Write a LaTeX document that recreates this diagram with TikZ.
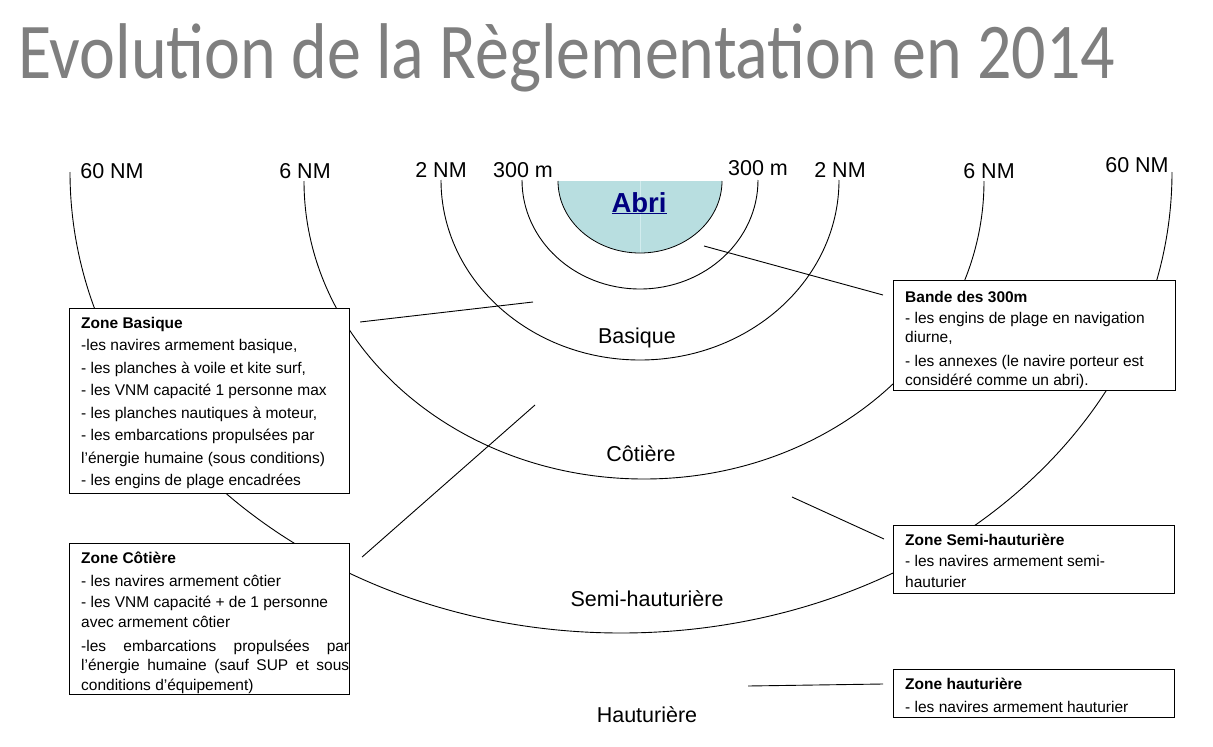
\documentclass[tikz,border=0pt]{standalone}
\usepackage{graphicx}
\usepackage{fontspec}
\setmainfont{Liberation Sans}
\newfontfamily\titlefont{Carlito}
\usetikzlibrary{calc}
\definecolor{abrifill}{HTML}{B8DEE0}
\definecolor{abriseam}{HTML}{D2ECEE}
\definecolor{abriblue}{HTML}{000080}
\definecolor{titlegray}{HTML}{7F7F7F}
\begin{document}
\begin{tikzpicture}[x=1pt,y=-1pt,
  arcline/.style={line width=0.9pt, black},
  conn/.style={line width=0.9pt, black},
  zonebox/.style={draw, line width=1.1pt, fill=white, inner sep=0pt, anchor=north west},
  boxtext/.style={anchor=north west, inner sep=0pt, align=left},
  distlabel/.style={anchor=base, inner sep=0pt, font=\fontsize{21.5}{24}\selectfont},
  zonelabel/.style={anchor=base, inner sep=0pt, font=\fontsize{21.5}{24}\selectfont},
]
\fill[white] (0,0) rectangle (1213,747);
\path[use as bounding box] (0,0) rectangle (1213,747);

% title
\node[anchor=base west, inner sep=0pt, text=titlegray] (title) at (18,78)
  {\resizebox{1097pt}{\height}{\titlefont\fontsize{79}{80}\selectfont Evolution de la Règlementation en 2014}};

% zone arcs
\draw[arcline] (70,172) arc[start angle=180, end angle=0, x radius=551, y radius=461];
\draw[arcline] (304,181) arc[start angle=180, end angle=0, x radius=340, y radius=298];
\draw[arcline] (441,180) arc[start angle=180, end angle=0, x radius=199, y radius=180];
\draw[arcline] (522,180) arc[start angle=180, end angle=0, x radius=118, y radius=109];

% abri
\fill[abrifill] (558,181) arc[start angle=180, end angle=0, x radius=82, y radius=72] -- cycle;
\draw[abriseam, line width=0.6pt] (640,181) -- (640,253);
\draw[arcline, line width=0.8pt] (558,181) arc[start angle=180, end angle=0, x radius=82, y radius=72];
\node[anchor=base, inner sep=0pt, text=abriblue, font=\fontsize{27.5}{30}\selectfont\bfseries] (abri) at (639,212) {\underline{Abri}};

% distance labels
\node[distlabel] (l60a) at (112,178) {60 NM};
\node[distlabel] (l6a) at (305,178) {6 NM};
\node[distlabel] (l2a) at (441,177.5) {2 NM};
\node[distlabel] (l300a) at (523,177) {300 m};
\node[distlabel] (l300b) at (758,175.5) {300 m};
\node[distlabel] (l2b) at (840,177.5) {2 NM};
\node[distlabel] (l6b) at (989,178) {6 NM};
\node[distlabel] (l60b) at (1137,172) {60 NM};

% zone labels
\node[zonelabel] (zlb) at (637,343) {Basique};
\node[zonelabel] (zlc) at (641,461) {Côtière};
\node[zonelabel] (zls) at (647,606) {Semi-hauturière};
\node[zonelabel] (zlh) at (647,722) {Hauturière};

% boxes
\node[zonebox, minimum width=280pt, minimum height=185pt] (zb) at (69,308) {};
\node[zonebox, minimum width=280pt, minimum height=151pt] (zc) at (69,543) {};
\node[zonebox, minimum width=282pt, minimum height=110pt] (bd) at (893,280) {};
\node[zonebox, minimum width=281pt, minimum height=68pt] (zs) at (893,525) {};
\node[zonebox, minimum width=281pt, minimum height=48pt] (zh) at (893,669) {};

% box texts
\node[boxtext, font=\fontsize{15.5}{22.5}\selectfont] (zbt) at (81,313) {%
\rule{0pt}{15pt}{\bfseries Zone Basique}\\
-les navires armement basique,\\
- les planches à voile et kite surf,\\
- les VNM capacité 1 personne max\\
- les planches nautiques à moteur,\\
- les embarcations propulsées par\\
l’énergie humaine (sous conditions)\\
- les engins de plage encadrées};

\node[boxtext, font=\fontsize{15.5}{19.5}\selectfont] (zct) at (81,548.5) {%
\rule{0pt}{15pt}{\bfseries Zone Côtière}\\[3.5pt]
- les navires armement côtier\\[1.5pt]
- les VNM capacité + de 1 personne\\
avec armement côtier\\[4.5pt]
\makebox[268pt][s]{-les embarcations propulsées par}\\
\makebox[268pt][s]{l’énergie humaine (sauf SUP et sous}\\
conditions d’équipement)};

\node[boxtext, font=\fontsize{15.5}{19}\selectfont] (bdt) at (905,287.5) {%
\rule{0pt}{15pt}{\bfseries Bande des 300m}\\[1.5pt]
- les engins de plage en navigation\\
diurne,\\[5pt]
- les annexes (le navire porteur est\\
considéré comme un abri).};

\node[boxtext, font=\fontsize{15.5}{21}\selectfont] (zst) at (905,530) {%
\rule{0pt}{15pt}{\bfseries Zone Semi-hauturière}\\[0.5pt]
- les navires armement semi-\\
hauturier};

\node[boxtext, font=\fontsize{15.5}{21}\selectfont] (zht) at (905,674.3) {%
\rule{0pt}{15pt}{\bfseries Zone hauturière}\\[2pt]
- les navires armement hauturier};

% connector free ends
\coordinate (pb) at (533,302);
\coordinate (pc) at (535,405);
\coordinate (pd) at (704,246);
\coordinate (ps) at (792,497);
\coordinate (ph) at (748,686);

% connectors
\draw[conn] ($(zb.north east)+(10,14)$) -- (pb);
\draw[conn] ($(zc.north east)+(12,14)$) -- (pc);
\draw[conn] (pd) -- ($(bd.north west)+(-10,15)$);
\draw[conn] (ps) -- ($(zs.north west)+(-9,14)$);
\draw[conn] (ph) -- ($(zh.north west)+(-10,15)$);
\end{tikzpicture}
\end{document}
